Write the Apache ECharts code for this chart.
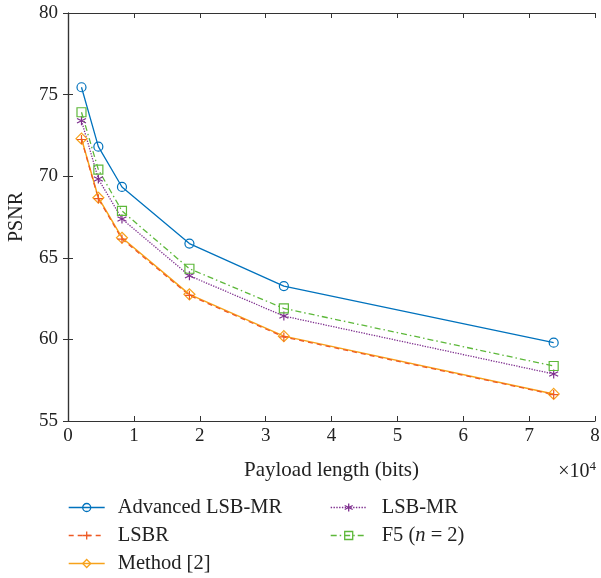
<!DOCTYPE html>
<html>
<head>
<meta charset="utf-8">
<script src="https://cdn.jsdelivr.net/npm/echarts@6/dist/echarts.min.js"></script>
<style>
  html, body { margin: 0; padding: 0; background: #fff; }
  #chart { width: 601px; height: 578px; }
</style>
</head>
<body>
<div id="chart"></div>
<script>
// payload length, in units of 10^4 bits
var payload = [0.2048, 0.4608, 0.8192, 1.8432, 3.2768, 7.3728];

// PSNR of each method
var advLsbMr = [75.45, 71.81, 69.34, 65.87, 63.27, 59.80];
var lsbr     = [72.25, 68.62, 66.15, 62.70, 60.15, 56.62];
var method2  = [72.30, 68.68, 66.23, 62.76, 60.20, 56.66];
var lsbMr    = [73.40, 69.83, 67.38, 63.90, 61.43, 57.88];
var f5       = [73.92, 70.40, 67.87, 64.33, 61.90, 58.37];

var xTicks = [0, 1, 2, 3, 4, 5, 6, 7, 8];
var yTicks = [55, 60, 65, 70, 75, 80];

var FONT = '"Liberation Serif", "DejaVu Serif", serif';

function pts(ys) {
  return payload.map(function (x, i) { return [x, ys[i]]; });
}

// asterisk and plus markers are drawn as stroked paths
var starPath = 'path://M0,-10L0,10M-8.66,-5L8.66,5M-8.66,5L8.66,-5';
var plusPath = 'path://M0,-10L0,10M-10,0L10,0';

function mkSeries(name, ys, color, symbol, size, lineType, lw) {
  return {
    name: name,
    type: 'line',
    data: pts(ys),
    symbol: symbol,
    symbolSize: size,
    showAllSymbol: true,
    lineStyle: { color: color, width: lw || 1.3, type: lineType },
    itemStyle: { color: 'rgba(255,255,255,0)', borderColor: color, borderWidth: 1.2 },
    emphasis: { disabled: true },
    animation: false
  };
}

var chart = echarts.init(document.getElementById('chart'));

var axisLine = { show: true, lineStyle: { color: '#333', width: 1.2 } };
var axisTick = { show: true, inside: true, length: 5, lineStyle: { color: '#333', width: 1 } };

var legendBase = {
  orient: 'vertical',
  top: 497,
  height: 90,
  padding: 0,
  itemWidth: 36,
  itemHeight: 10,
  itemGap: 7,
  itemStyle: { borderWidth: 1.3 },
  lineStyle: { width: 1.4 },
  selectedMode: false
};

chart.setOption({
  backgroundColor: '#fff',
  textStyle: { fontFamily: FONT },
  grid: { left: 68, right: 6, top: 13, bottom: 157, outerBoundsMode: 'none', containLabel: false },
  title: {
    text: '×10{sup|4}',
    right: 0,
    top: 455,
    textStyle: {
      fontFamily: FONT, fontSize: 20, fontWeight: 'normal', color: '#222',
      rich: { sup: { fontFamily: FONT, fontSize: 13, color: '#222', verticalAlign: 'top', padding: [0, 0, 10, 0] } }
    }
  },
  legend: [Object.assign({}, legendBase, {
    data: ['Advanced LSB-MR', 'LSBR', 'Method [2]'],
    left: 68,
    textStyle: { fontFamily: FONT, fontSize: 20.5, color: '#222', padding: [0, 0, 0, 8] }
  }), Object.assign({}, legendBase, {
    data: ['LSB-MR', 'F5 (n = 2)'],
    left: 330,
    formatter: function (name) {
      return name === 'F5 (n = 2)' ? 'F5 ({i|n} = 2)' : name;
    },
    textStyle: {
      fontFamily: FONT, fontSize: 20.5, color: '#222', padding: [0, 0, 0, 10],
      rich: { i: { fontFamily: FONT, fontSize: 20.5, fontStyle: 'italic', color: '#222' } }
    }
  })],
  xAxis: [{
    type: 'value',
    min: 0, max: 8, interval: 1,
    name: 'Payload length (bits)',
    nameLocation: 'middle',
    nameGap: 39,
    nameTextStyle: { fontFamily: FONT, fontSize: 21, color: '#222' },
    axisLine: axisLine,
    axisTick: axisTick,
    splitLine: { show: false },
    axisLabel: {
      fontFamily: FONT, fontSize: 19, color: '#222', margin: 6,
      formatter: function (v) { return xTicks.indexOf(v) >= 0 ? String(v) : ''; }
    }
  }, {
    type: 'value', position: 'top',
    min: 0, max: 8, interval: 1,
    axisLine: axisLine, axisTick: axisTick,
    axisLabel: { show: false }, splitLine: { show: false }
  }],
  yAxis: [{
    type: 'value',
    min: 55, max: 80, interval: 5,
    name: 'PSNR',
    nameLocation: 'middle',
    nameGap: 41,
    nameTextStyle: { fontFamily: FONT, fontSize: 20, color: '#222' },
    axisLine: axisLine,
    axisTick: axisTick,
    splitLine: { show: false },
    axisLabel: {
      fontFamily: FONT, fontSize: 19, color: '#222', margin: 10,
      formatter: function (v) { return yTicks.indexOf(v) >= 0 ? String(v) : ''; }
    }
  }, {
    type: 'value', position: 'right',
    min: 55, max: 80, interval: 5,
    axisLine: axisLine, axisTick: axisTick,
    axisLabel: { show: false }, splitLine: { show: false }
  }],
  series: [
    mkSeries('Advanced LSB-MR', advLsbMr, '#0072BD', 'circle', 9, 'solid'),
    mkSeries('LSB-MR', lsbMr, '#7E2F8E', starPath, 9, 'dotted'),
    mkSeries('F5 (n = 2)', f5, '#5DB83A', 'rect', 9, [6, 3, 1.5, 3]),
    mkSeries('Method [2]', method2, '#F7A21B', 'diamond', 11, 'solid', 1.5),
    mkSeries('LSBR', lsbr, '#EE5A24', plusPath, 9, [5, 4])
  ]
});
</script>
</body>
</html>
